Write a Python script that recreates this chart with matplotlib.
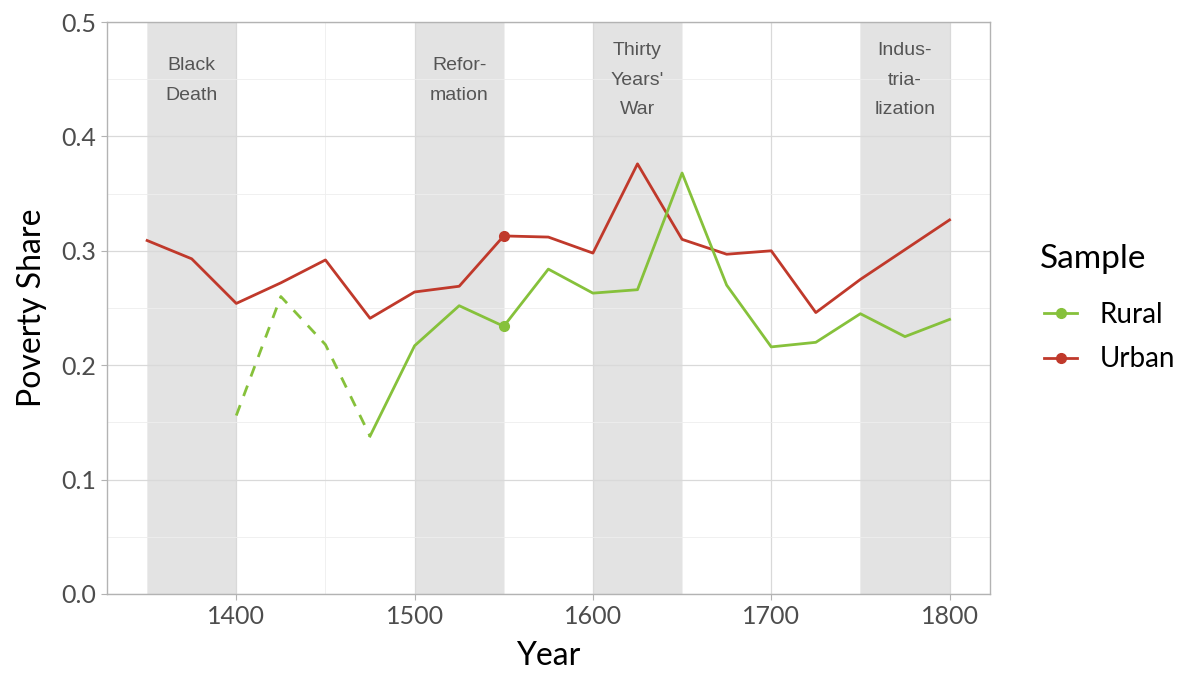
import matplotlib.pyplot as plt
from matplotlib.lines import Line2D

# data
years = [1350, 1375, 1400, 1425, 1450, 1475, 1500, 1525, 1550, 1575, 1600,
         1625, 1650, 1675, 1700, 1725, 1750, 1775, 1800]
urban = [0.309, 0.293, 0.254, 0.272, 0.292, 0.241, 0.264, 0.269, 0.313, 0.312,
         0.298, 0.376, 0.310, 0.297, 0.300, 0.246, 0.275, 0.301, 0.327]

rural_dash_years = [1400, 1425, 1450, 1475]
rural_dash = [0.156, 0.260, 0.218, 0.138]
rural_years = [1475, 1500, 1525, 1550, 1575, 1600, 1625, 1650, 1675, 1700,
               1725, 1750, 1775, 1800]
rural = [0.138, 0.217, 0.252, 0.234, 0.284, 0.263, 0.266, 0.368, 0.270, 0.216,
         0.220, 0.245, 0.225, 0.240]

marker_year = 1550
urban_marker = 0.313
rural_marker = 0.234

periods = [(1350, 1400, "Black\nDeath"), (1500, 1550, "Refor-\nmation"),
           (1600, 1650, "Thirty\nYears'\nWar"), (1750, 1800, "Indus-\ntria-\nlization")]

green = '#86c13b'
red = '#c0392b'

plt.rcParams['font.family'] = ['Lato', 'DejaVu Sans']

fig = plt.figure(figsize=(11.81, 6.73), dpi=100)
ax = fig.add_axes([0.0906, 0.1174, 0.7474, 0.8499])

for x0, x1, label in periods:
    ax.axvspan(x0, x1, color='#e3e3e3', zorder=1, lw=0)
    ax.text((x0 + x1) / 2, 0.449, label, ha='center', va='center',
            fontsize=14, color='#555555', family='Liberation Sans',
            linespacing=1.95, zorder=5)

ax.plot(years, urban, color=red, lw=2, zorder=3)
ax.plot(rural_dash_years, rural_dash, color=green, lw=2, ls=(0, (4, 3.5)), zorder=3)
ax.plot(rural_years, rural, color=green, lw=2, zorder=3)
ax.plot([marker_year], [urban_marker], 'o', color=red, ms=7, zorder=4)
ax.plot([marker_year], [rural_marker], 'o', color=green, ms=7, zorder=4)

ax.set_xlim(1327.5, 1822.5)
ax.set_ylim(0, 0.5)
ax.set_xticks([1400, 1500, 1600, 1700, 1800])
ax.set_xticks([1350, 1450, 1550, 1650, 1750], minor=True)
ax.set_yticks([0.0, 0.1, 0.2, 0.3, 0.4, 0.5])
ax.set_yticks([0.05, 0.15, 0.25, 0.35, 0.45], minor=True)
ax.set_yticklabels(['0.0', '0.1', '0.2', '0.3', '0.4', '0.5'])
ax.grid(True, which='major', color='#d9d9d9', lw=0.9)
ax.grid(True, which='minor', color='#eeeeee', lw=0.6)
for gl in ax.get_xgridlines() + ax.get_ygridlines():
    gl.set_zorder(2)
ax.tick_params(which='major', length=4, color='#b3b3b3', labelsize=18,
               labelcolor='#4d4d4d', pad=4)
ax.tick_params(which='minor', length=0)
for s in ax.spines.values():
    s.set_color('#b3b3b3')
    s.set_linewidth(1)

ax.set_xlabel('Year', fontsize=23, labelpad=9)
ax.set_ylabel('Poverty Share', fontsize=23, labelpad=10)

# legend: title drawn separately for spacing control
fig.text(1040 / 1181, 1 - 259 / 673, 'Sample', fontsize=24, va='center', ha='left')
handles = [Line2D([0], [0], color=green, lw=2, marker='o', ms=7),
           Line2D([0], [0], color=red, lw=2, marker='o', ms=7)]
leg = fig.legend(handles, ['Rural', 'Urban'], loc='upper left',
                 bbox_to_anchor=(1044 / 1181, 1 - 302 / 673), frameon=False,
                 fontsize=20, handlelength=1.2, labelspacing=0.66,
                 handletextpad=0.8, borderpad=0, borderaxespad=0)

fig.savefig('out.png', dpi=100)
